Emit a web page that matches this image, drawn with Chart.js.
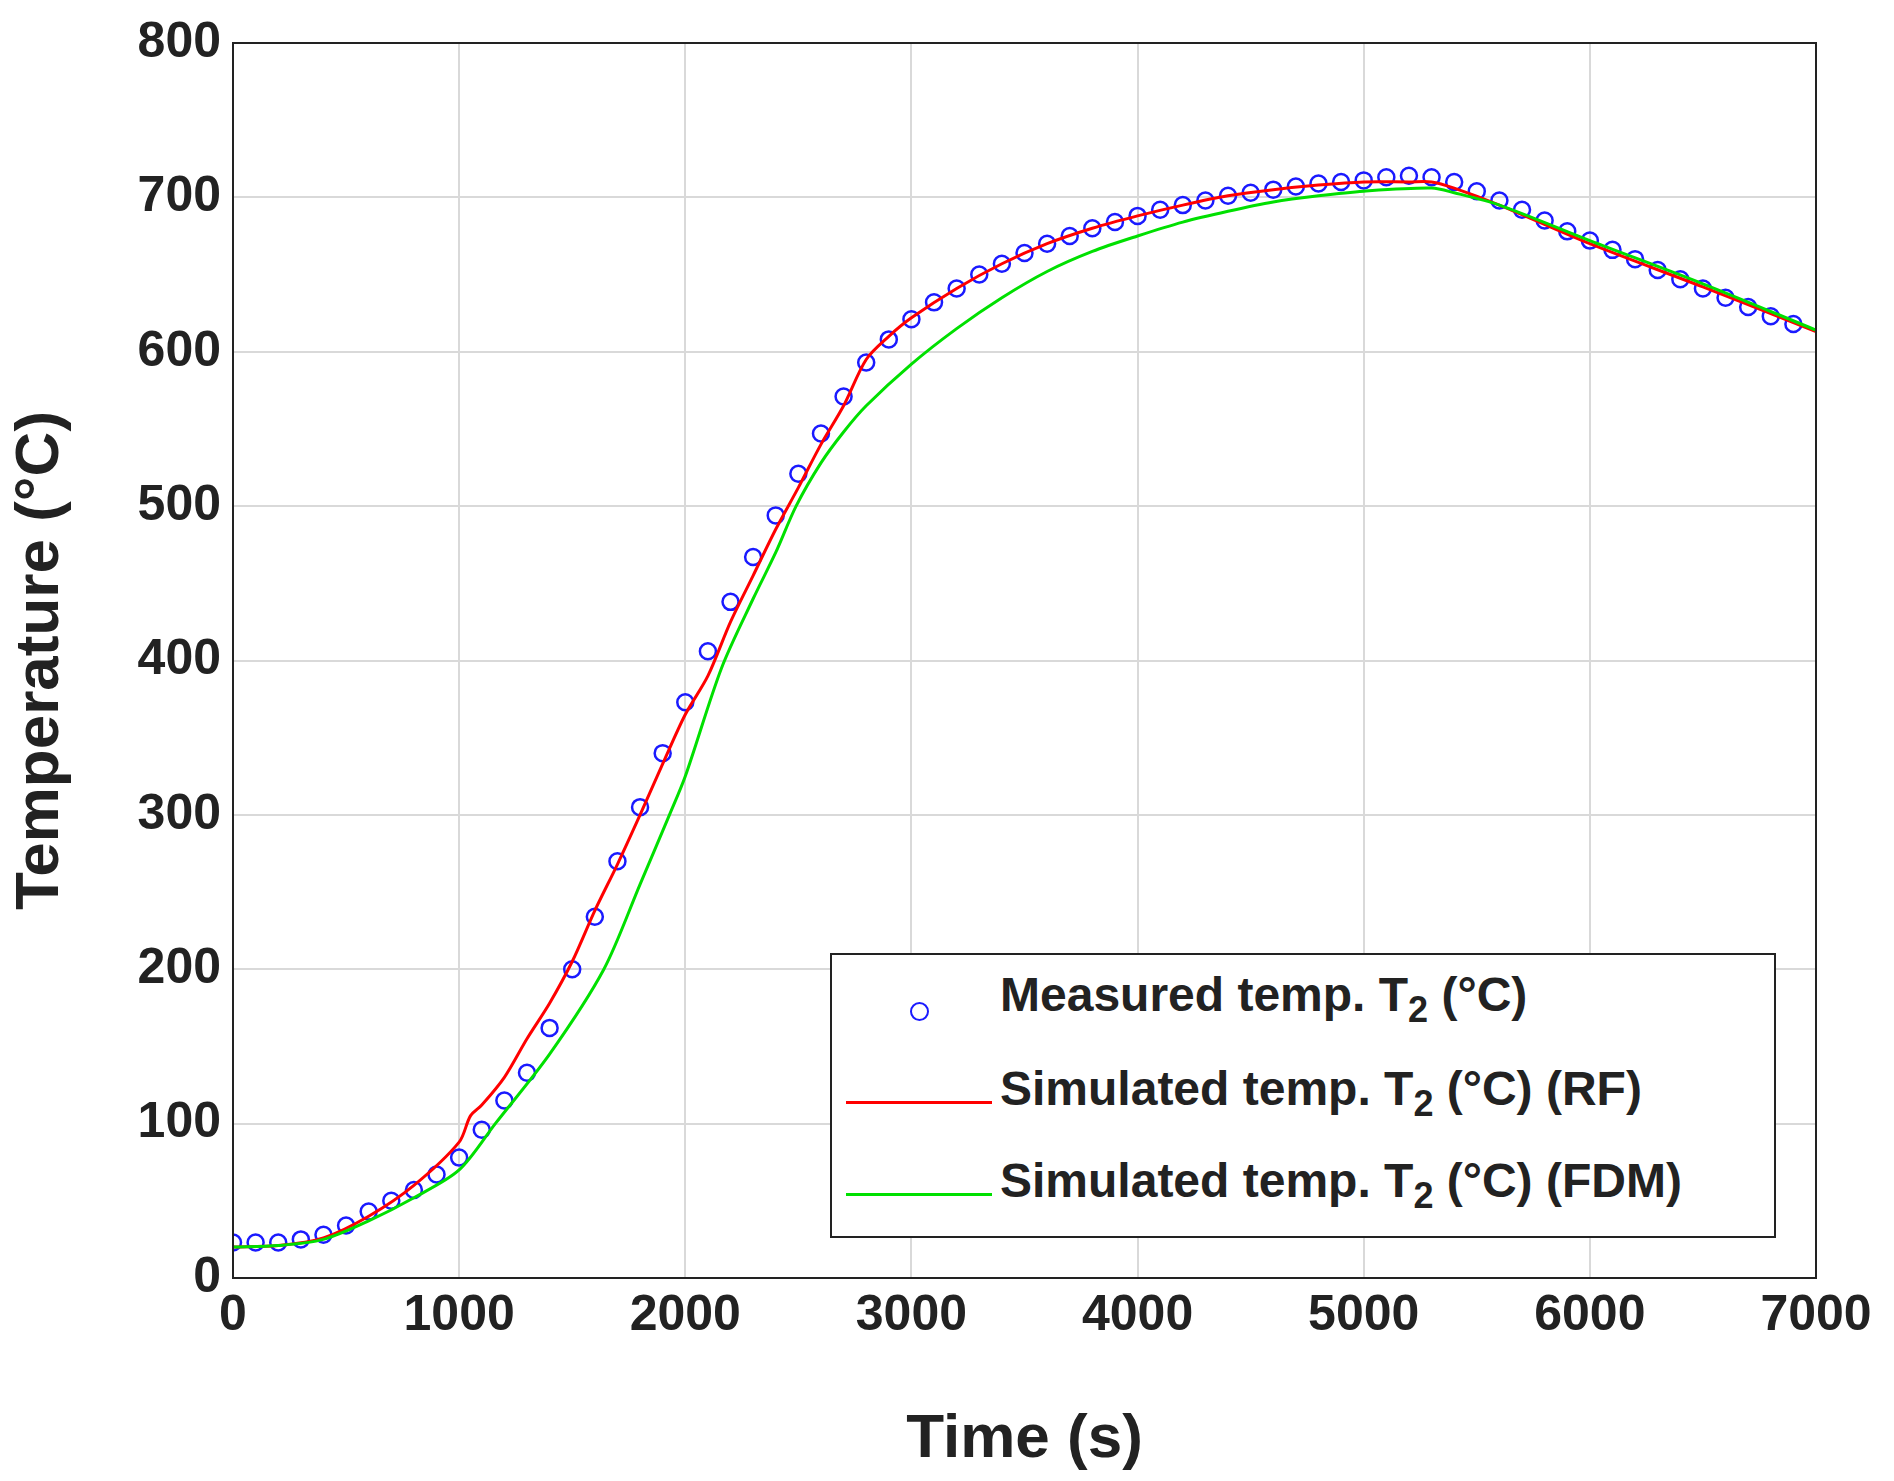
<!DOCTYPE html>
<html><head>
<script src="https://cdn.jsdelivr.net/npm/chart.js@4"></script>
<style>
body{margin:0;background:#fff;}
#wrap{position:relative;width:1894px;height:1481px;}
#legend{position:absolute;left:830px;top:953px;width:946px;height:285px;border:2px solid #222;background:#fff;
font-family:'Liberation Sans',Arial,sans-serif;font-weight:bold;font-size:48px;color:#222;box-sizing:border-box;}
.row{position:absolute;left:168px;}
.row sub{font-size:36px;}
.sym{position:absolute;left:14px;width:146px;}
</style>
</head><body>
<div id="wrap">
<canvas id="c" width="1894" height="1481"></canvas>
<div id="legend">
  <div class="sym" style="top:22px;text-align:center;"><span style="display:inline-block;width:15px;height:15px;border:2.5px solid #1a1aff;border-radius:50%;"></span></div>
  <div class="row" style="top:12px;">Measured temp. T<sub>2</sub> (°C)</div>
  <div class="sym" style="top:146px;height:3px;background:#ff0000;"></div>
  <div class="row" style="top:106px;">Simulated temp. T<sub>2</sub> (°C) (RF)</div>
  <div class="sym" style="top:238px;height:3px;background:#00e000;"></div>
  <div class="row" style="top:198px;">Simulated temp. T<sub>2</sub> (°C) (FDM)</div>
</div>
</div>
<script>
// Measured T2, every 100 s
const measTime = [];
for (let t = 0; t <= 6900; t += 100) measTime.push(t);
const measTemp = [23,23,23,25,28,34,43,50,57,67,78,96,115,133,162,200,234,270,305,340,
  373,406,438,467,494,521,547,571,593,608,621,632,641,650,657,664,670,675,680,684,
  688,692,695,698,701,703,705,707,709,710,711,713,714,713,710,704,698,692,685,678,
  672,666,660,653,647,641,635,629,623,618];

// RF simulation
const rfTime = [0,200,400,600,800,1000,1050,1100,1200,1300,1400,1500,1600,1700,1800,1900,2000,2100,2200,2300,2400,2500,2600,2700,2800,2900,3000,3200,3400,3600,3800,4000,4200,4400,4600,4800,5000,5200,5300,5400,5600,6000,6500,7000];
const rfTemp = [20,21,26,40,60,88,105,112,130,155,178,205,238,268,300,333,365,390,425,455,485,512,540,565,595,610,622,641,657,670,680,688,695,701,705,708,710,710,710,706,695,670,642,613];

// FDM simulation
const fdmTime = [0,200,400,600,800,1000,1160,1400,1640,1800,1930,2000,2160,2300,2400,2490,2600,2700,2800,3000,3200,3400,3600,3800,4000,4200,4400,4600,4800,5000,5300,5400,5600,6000,6500,7000];
const fdmTemp = [20,21,25,37,52,70,100,145,200,255,300,325,395,440,470,500,528,548,565,592,615,635,652,665,675,684,691,697,701,704,706,703,695,672,644,614];

const xy = (xs, ys) => xs.map((x, i) => ({ x: x, y: ys[i] }));
const FONT = "'Liberation Sans', Arial, sans-serif";

const frame = {
  id: 'frame',
  afterDraw(chart) {
    const { ctx, chartArea: a } = chart;
    ctx.save();
    ctx.strokeStyle = '#222';
    ctx.lineWidth = 2;
    ctx.strokeRect(a.left, a.top, a.right - a.left, a.bottom - a.top);
    ctx.restore();
  }
};

new Chart(document.getElementById('c'), {
  type: 'scatter',
  data: {
    datasets: [
      { data: xy(fdmTime, fdmTemp), showLine: true, borderColor: '#00e000', borderWidth: 3, pointRadius: 0, tension: 0.3 },
      { data: xy(rfTime, rfTemp), showLine: true, borderColor: '#ff0000', borderWidth: 3, pointRadius: 0, tension: 0.3 },
      { data: xy(measTime, measTemp), showLine: false, borderColor: '#1a1aff', backgroundColor: 'transparent', borderWidth: 2.5, pointRadius: 8 }
    ]
  },
  options: {
    responsive: false,
    animation: false,
    layout: { padding: { top: 43, right: 78 } },
    plugins: { legend: { display: false }, tooltip: { enabled: false } },
    scales: {
      x: {
        type: 'linear', min: 0, max: 7000,
        ticks: { stepSize: 1000, callback: v => String(v), color: '#222', font: { family: FONT, size: 50, weight: 'bold' }, padding: 8 },
        grid: { color: '#d9d9d9', lineWidth: 2, drawTicks: false },
        border: { display: false },
        title: { display: true, text: 'Time (s)', color: '#222', font: { family: FONT, size: 62, weight: 'bold' }, padding: { top: 0 } },
        afterFit: s => { s.height = 203; }
      },
      y: {
        min: 0, max: 800,
        ticks: { stepSize: 100, color: '#222', font: { family: FONT, size: 50, weight: 'bold' }, padding: 12 },
        grid: { color: '#d9d9d9', lineWidth: 2, drawTicks: false },
        border: { display: false },
        title: { display: true, text: 'Temperature (°C)', color: '#222', font: { family: FONT, size: 62, weight: 'bold' } },
        afterFit: s => { s.width = 233; }
      }
    }
  },
  plugins: [frame]
});
</script>
</body></html>
